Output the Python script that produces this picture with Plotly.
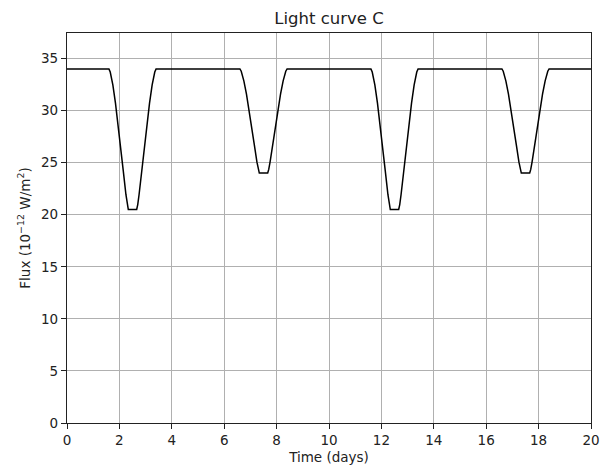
import plotly.graph_objects as go

# Time (days) and flux (10^-12 W/m^2)
time_days = [
    0.0,
    1.60, 1.65, 1.70, 1.75, 1.85, 1.95, 2.05, 2.15, 2.25, 2.30, 2.34,
    2.66, 2.70, 2.75, 2.85, 2.95, 3.05, 3.15, 3.25, 3.30, 3.35, 3.40,
    6.60, 6.65, 6.70, 6.75, 6.85, 6.95, 7.05, 7.15, 7.25, 7.30, 7.34,
    7.66, 7.70, 7.75, 7.85, 7.95, 8.05, 8.15, 8.25, 8.30, 8.35, 8.40,
    11.60, 11.65, 11.70, 11.75, 11.85, 11.95, 12.05, 12.15, 12.25, 12.30, 12.34,
    12.66, 12.70, 12.75, 12.85, 12.95, 13.05, 13.15, 13.25, 13.30, 13.35, 13.40,
    16.60, 16.65, 16.70, 16.75, 16.85, 16.95, 17.05, 17.15, 17.25, 17.30, 17.34,
    17.66, 17.70, 17.75, 17.85, 17.95, 18.05, 18.15, 18.25, 18.30, 18.35, 18.40,
    20.0,
]
flux = [
    34.0,
    34.0, 33.70, 33.14, 32.46, 30.72, 28.69, 26.47, 24.16, 21.92, 20.97, 20.5,
    20.5, 20.97, 21.92, 24.16, 26.47, 28.69, 30.72, 32.46, 33.14, 33.70, 34.0,
    34.0, 33.78, 33.37, 32.86, 31.57, 30.07, 28.42, 26.71, 25.05, 24.35, 24.0,
    24.0, 24.35, 25.05, 26.71, 28.42, 30.07, 31.57, 32.86, 33.37, 33.78, 34.0,
    34.0, 33.70, 33.14, 32.46, 30.72, 28.69, 26.47, 24.16, 21.92, 20.97, 20.5,
    20.5, 20.97, 21.92, 24.16, 26.47, 28.69, 30.72, 32.46, 33.14, 33.70, 34.0,
    34.0, 33.78, 33.37, 32.86, 31.57, 30.07, 28.42, 26.71, 25.05, 24.35, 24.0,
    24.0, 24.35, 25.05, 26.71, 28.42, 30.07, 31.57, 32.86, 33.37, 33.78, 34.0,
    34.0,
]
x_ticks = [0, 2, 4, 6, 8, 10, 12, 14, 16, 18, 20]
y_ticks = [0, 5, 10, 15, 20, 25, 30, 35]

font = "DejaVu Sans, sans-serif"

fig = go.Figure()
fig.add_trace(go.Scatter(
    x=time_days, y=flux, mode="lines",
    line=dict(color="black", width=1.5),
    showlegend=False, hoverinfo="skip",
))

axis_common = dict(
    showline=True, linecolor="#222222", linewidth=1.2, mirror=True,
    showgrid=True, gridcolor="#b0b0b0", gridwidth=1,
    ticks="outside", ticklen=5, tickcolor="#222222", tickwidth=1,
    zeroline=False, automargin=False,
    tickfont=dict(family=font, size=13.5, color="#222222"),
)

# The page body adds an 8 px offset, so margins are compensated by 8 px
fig.update_layout(
    width=610, height=472,
    paper_bgcolor="white", plot_bgcolor="white",
    margin=dict(l=59, r=27, t=25, b=57),
    title=dict(text="Light curve C", x=(59 + 583) / 2 / 610, xref="container", xanchor="center",
               y=1 - 10.5 / 472, yref="container", yanchor="middle",
               font=dict(family=font, size=16.5, color="#222222")),
    xaxis=dict(range=[0, 20], tickvals=x_ticks,
               title=dict(text="Time (days)", standoff=5,
                          font=dict(family=font, size=13.5, color="#222222")),
               **axis_common),
    yaxis=dict(range=[0, 37.45], tickvals=y_ticks,
               title=dict(text="Flux (10<sup>\u221212</sup> W/m<sup>2</sup>)", standoff=7,
                          font=dict(family=font, size=13.5, color="#222222")),
               **axis_common),
)

fig.write_html("out.html")
